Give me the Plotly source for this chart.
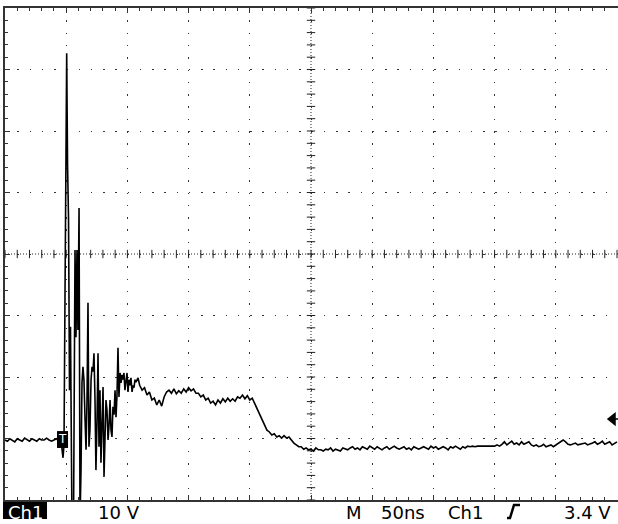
import plotly.graph_objects as go

# ---------------- data (time in ns, voltage in V; 50 ns/div, 10 V/div) ----------------
pre_t = list(range(0, 47, 2))
pre_v = [0, -0.2, 0.2, 0, -0.3, 0.2, 0, -0.2, 0.3, 0, -0.2, 0.2,
         0, -0.2, 0.2, 0, 0, 0.3, 0, -0.2, 0, 0.2, -0.2, -0.5]

ring_t = [47.4, 48.2, 49.0, 49.8, 50.4, 51.1, 51.9, 52.7, 53.5, 54.7,
          56.0, 57.2, 58.0, 58.8, 59.6, 60.5, 61.3, 62.1, 62.9, 63.7,
          64.5, 65.4, 66.2, 67.0, 67.8, 68.6, 69.4, 70.3, 71.1, 71.9,
          72.7, 73.5, 74.3, 75.2, 76.0, 76.8, 77.6, 78.4, 79.2, 80.1,
          80.9, 81.7, 82.5, 83.3, 84.2, 85.0, 85.8, 86.6, 87.4, 88.2,
          89.1, 89.9, 90.7, 91.5, 92.3, 93.1, 94.0, 94.8, 95.6, 96.4,
          97.2, 98.0, 98.9, 99.7, 100.5, 101.3, 102.1, 102.9, 103.8, 104.6,
          105.4, 106.2, 107.0, 107.8, 108.7]
ring_v = [-2.9, -0.8, 22.8, 44.7, 62.9, 44.7, 36.1, 8.1, 18.4, -13,
          -13, 30.9, 16.7, 30.9, 17.9, 37.7, -13, -4.9, 9.3, 11.9,
          9.8, 3.3, -1.6, 6.5, 22.3, -1.1, 1.6, 9.8, 11.9, 11.1,
          14.1, 7.0, -4.9, 3.3, 14.1, -1.1, 8.1, -3.7, 1.6, 8.6,
          -6.0, 0, 6.5, 4.9, 0, 2.4, 6.5, 1.6, 0.5, 5.4,
          4.1, 8.1, 3.7, 7.3, 15.0, 7.0, 10.9, 9.3, 10.6, 9.8,
          10.9, 8.1, 10.2, 10.9, 7.8, 9.8, 8.9, 10.1, 7.8, 8.9,
          8.5, 9.8, 9.4, 9.8, 10.1]

plateau_t = list(range(110, 257, 2))
plateau_v = [8.9, 8.1, 8.5, 7.3, 7.8, 6.5, 6.8, 5.7, 6.5, 5.5,
             7.0, 7.8, 8.1, 7.6, 8.3, 7.5, 8.0, 7.6, 8.3, 7.8,
             8.5, 8.0, 8.3, 7.6, 7.6, 7.0, 7.3, 6.5, 6.8, 6.0,
             6.3, 5.7, 6.5, 6.0, 6.7, 6.2, 6.8, 6.3, 6.7, 6.3,
             7.0, 6.8, 7.3, 6.7, 7.2, 6.5, 6.8, 5.9, 5.2, 4.2,
             3.4, 2.3, 1.6, 1.3, 0.8, 1.0, 0.5, 0.7, 0.3, 0.7,
             0.3, 0.5, 0.0, -0.5, -0.8, -1.1, -1.1, -1.5, -1.3, -1.6,
             -1.5, -1.8, -1.3, -1.6]

tail_t = list(range(258, 501, 2))
tail_v = [-1.6, -1.8, -1.5, -1.6, -1.3, -1.8, -1.5, -1.6, -1.8, -1.3, -1.5, -1.6,
          -1.3, -1.1, -1.5, -1.3, -1.6, -1.1, -1.3, -1.5, -1.0, -1.3, -1.5, -1.1,
          -1.3, -1.6, -1.3, -1.1, -1.5, -1.3, -1.0, -1.3, -1.5, -1.3, -1.1, -1.5,
          -1.3, -1.6, -1.1, -1.3, -1.5, -1.3,
          -1.1, -1.3, -1.5, -1.0, -1.3, -1.1, -1.5, -1.3, -1.1, -1.3, -1.6, -1.1,
          -1.3, -1.0, -1.3, -1.5, -1.1, -1.3,
          -1.0, -1.1, -1.0, -1.1, -1.0, -1.0, -1.1, -1.0, -1.0, -1.1, -1.0, -1.0, -0.8, -1.0,
          -0.7, -0.3, -0.8, -0.5, -0.2, -0.7, -0.5, -0.8, -0.3, -0.7, -0.5, -0.3, -0.8,
          -1.0, -0.8, -1.1, -1.0, -0.7, -1.1, -1.0, -0.8, -1.1, -0.8, -0.5,
          -0.2, 0.0, -0.3,
          -0.7, -0.8, -0.7, -0.5, -0.8, -0.7, -0.7, -0.5, -0.8, -0.7, -0.5,
          -0.3, -0.7, -0.5, -0.2, -0.7, -0.5, -0.3, -0.8, -0.5, -0.3]

trigger_level = 3.4          # V
trigger_time = 47.0          # ns
volts_per_div = 10
ns_per_div = 50
ground_offset_div = 3.024    # channel position (divisions below centre)

status_labels = ["10 V", "M", "50ns", "Ch1", "3.4 V"]

assert len(pre_t) == len(pre_v)
assert len(ring_t) == len(ring_v)
assert len(plateau_t) == len(plateau_v)
assert len(tail_t) == len(tail_v)

t = pre_t + ring_t + plateau_t + tail_t
v = pre_v + ring_v + plateau_v + tail_v

# ---------------- figure ----------------
W, H = 618, 524
L, R, T, B = 5, 0, 8, 24
plot_w = W - L - R
plot_h = H - T - B

y_center = ground_offset_div * volts_per_div
y_lo = y_center - 4 * volts_per_div
y_hi = y_center + 4 * volts_per_div
x_lo = 0
x_hi = 10 * ns_per_div * (plot_w / (plot_w - 1))   # right frame slightly cropped
x_center = 5 * ns_per_div

fig = go.Figure()

# graticule centre-line tick marks
ink = "#222222"
cx_ticks = [i * ns_per_div / 5 for i in range(0, 51)]
cy_ticks = [y_lo + i * volts_per_div / 5 for i in range(0, 41)]
fig.add_trace(go.Scatter(x=cx_ticks, y=[y_center] * len(cx_ticks), mode="markers",
                         marker=dict(symbol="line-ns", size=6, line=dict(width=1, color=ink)),
                         hoverinfo="skip", showlegend=False, cliponaxis=True))
fig.add_trace(go.Scatter(x=[x_center] * len(cy_ticks), y=cy_ticks, mode="markers",
                         marker=dict(symbol="line-ew", size=6, line=dict(width=1, color=ink)),
                         hoverinfo="skip", showlegend=False, cliponaxis=True))

# waveform
fig.add_trace(go.Scatter(x=t, y=v, mode="lines", line=dict(color="black", width=1.6),
                         hoverinfo="skip", showlegend=False))

shapes = [
    # centre lines (dense dotted)
    dict(type="line", xref="x", yref="y", x0=x_lo, x1=x_hi, y0=y_center, y1=y_center,
         line=dict(color=ink, width=1, dash="1px,2px"), layer="below"),
    dict(type="line", xref="x", yref="y", x0=x_center, x1=x_center, y0=y_lo, y1=y_hi,
         line=dict(color=ink, width=1, dash="1px,2px"), layer="below"),
    # trigger position flag
    dict(type="rect", xref="x", yref="y", x0=trigger_time - 4.5, x1=trigger_time + 4.5,
         y0=-1.3, y1=1.45, fillcolor="black", line=dict(width=0)),
]

def px2paper_x(px):
    return (px - L) / plot_w

def px2paper_y(py):
    return (H - B - py) / plot_h

# Ch1 black box
shapes.append(dict(type="rect", xref="paper", yref="paper",
                   x0=px2paper_x(3), x1=px2paper_x(47), y0=px2paper_y(519), y1=px2paper_y(502),
                   fillcolor="black", line=dict(width=0)))
# rising edge trigger symbol
pts = [(507, 518), (510, 518), (514, 505), (520, 505)]
path = "M " + " L ".join(f"{px2paper_x(a):.5f},{px2paper_y(b):.5f}" for a, b in pts)
shapes.append(dict(type="path", xref="paper", yref="paper", path=path,
                   line=dict(color="black", width=2.5)))
# trigger level arrow (right edge)
ty = trigger_level
arrow = (f"M {px2paper_x(608):.5f},{ty} L {px2paper_x(615):.5f},{ty + 0.9} "
         f"L {px2paper_x(615):.5f},{ty - 0.9} Z M {px2paper_x(615):.5f},{ty} L 1,{ty}")
shapes.append(dict(type="path", xref="paper", yref="y", path=arrow,
                   fillcolor="black", line=dict(color="black", width=1.5)))

font = "DejaVu Sans"
ty_text = px2paper_y(512)
annotations = [
    dict(text="Ch1", x=px2paper_x(25), y=ty_text, xref="paper", yref="paper",
         xanchor="center", yanchor="middle", showarrow=False,
         font=dict(family=font, size=18, color="white")),
    dict(text=status_labels[0], x=px2paper_x(96), y=ty_text, xref="paper", yref="paper",
         xanchor="left", yanchor="middle", showarrow=False, font=dict(family=font, size=18, color="black")),
    dict(text=status_labels[1], x=px2paper_x(344), y=ty_text, xref="paper", yref="paper",
         xanchor="left", yanchor="middle", showarrow=False, font=dict(family=font, size=18, color="black")),
    dict(text=status_labels[2], x=px2paper_x(379), y=ty_text, xref="paper", yref="paper",
         xanchor="left", yanchor="middle", showarrow=False, font=dict(family=font, size=18, color="black")),
    dict(text=status_labels[3], x=px2paper_x(446), y=ty_text, xref="paper", yref="paper",
         xanchor="left", yanchor="middle", showarrow=False, font=dict(family=font, size=18, color="black")),
    dict(text=status_labels[4], x=px2paper_x(613), y=ty_text, xref="paper", yref="paper",
         xanchor="right", yanchor="middle", showarrow=False, font=dict(family=font, size=18, color="black")),
    dict(text="T", x=trigger_time, y=0.1, xref="x", yref="y", xanchor="center", yanchor="middle",
         showarrow=False, font=dict(family=font, size=12, color="white")),
]

div_x = plot_h / 40.0
fig.update_layout(
    width=W, height=H,
    margin=dict(l=L, r=R, t=T, b=B, pad=0),
    paper_bgcolor="white", plot_bgcolor="white",
    shapes=shapes, annotations=annotations,
    showlegend=False,
    xaxis=dict(range=[x_lo, x_hi], tick0=0, dtick=ns_per_div, showticklabels=False,
               showgrid=True, gridcolor="#333333", gridwidth=1,
               griddash=f"1.5px,{div_x - 1.5:.2f}px",
               zeroline=False, showline=True, linecolor="#333333", linewidth=2, mirror="allticks",
               ticks="inside", ticklen=5, tickcolor="#333333",
               minor=dict(dtick=ns_per_div / 5, tick0=0, ticks="inside", ticklen=3,
                          tickcolor="#333333", showgrid=False),
               fixedrange=True),
    yaxis=dict(range=[y_lo, y_hi], tick0=y_lo, dtick=volts_per_div, showticklabels=False,
               showgrid=True, gridcolor="#333333", gridwidth=1,
               griddash=f"1.5px,{plot_w / 50.0 - 1.5:.2f}px",
               zeroline=False, showline=True, linecolor="#333333", linewidth=2, mirror=False,
               ticks="inside", ticklen=5, tickcolor="#333333",
               minor=dict(dtick=volts_per_div / 5, tick0=y_lo, ticks="inside", ticklen=3,
                          tickcolor="#333333", showgrid=False),
               fixedrange=True),
)

fig.write_html("out.html", config={"displayModeBar": False},
               post_script="document.body.style.margin='0';document.body.style.overflow='hidden';")
